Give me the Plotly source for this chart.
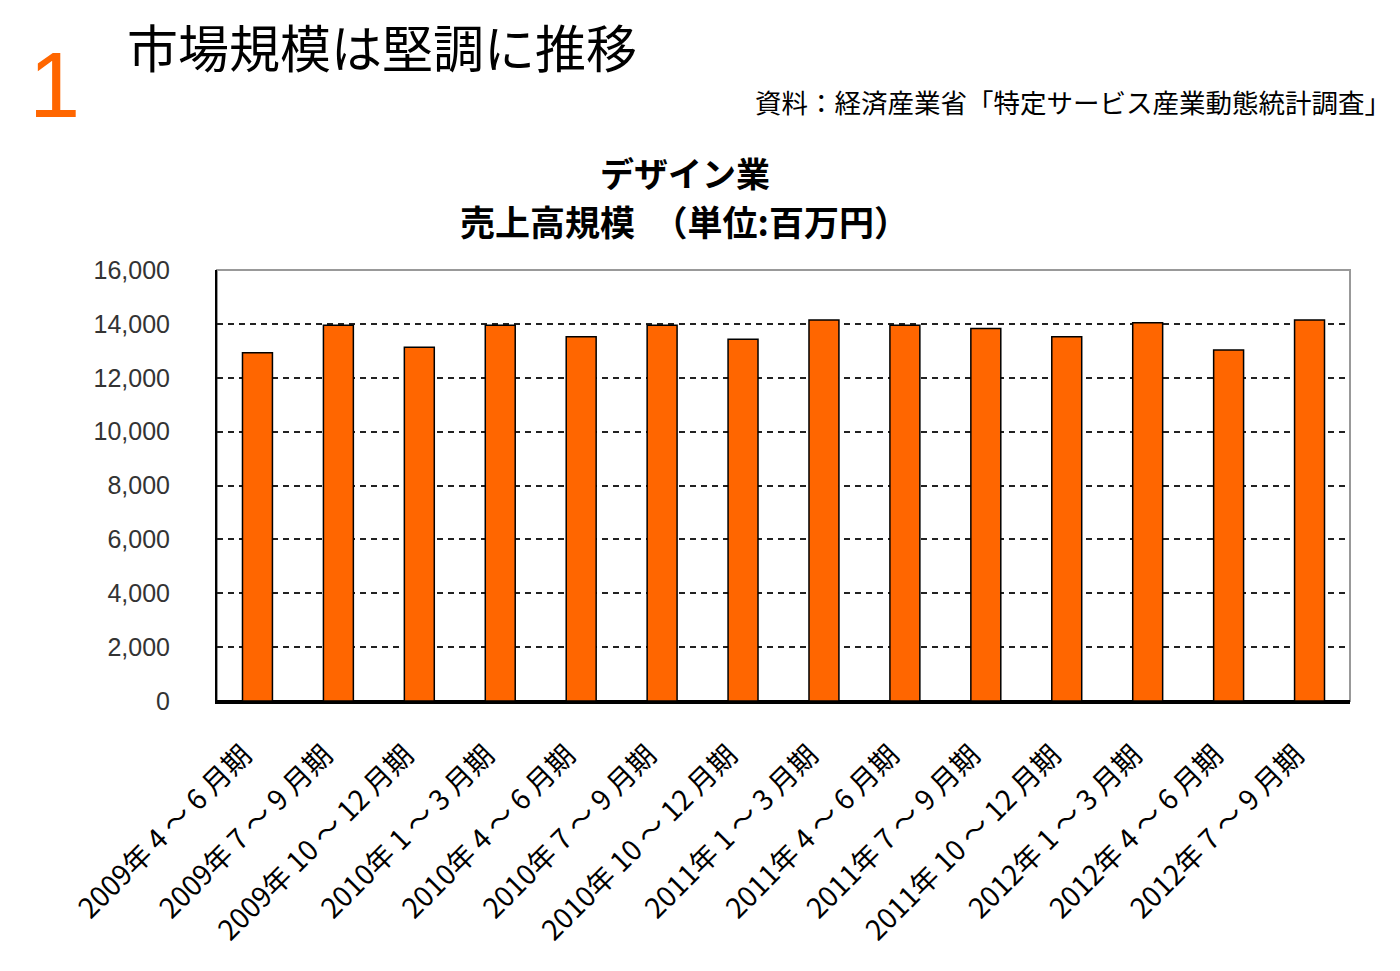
import plotly.graph_objects as go

periods = [
    "2009年 4 ～ 6 月期", "2009年 7 ～ 9 月期", "2009年 10 ～ 12 月期",
    "2010年 1 ～ 3 月期", "2010年 4 ～ 6 月期", "2010年 7 ～ 9 月期", "2010年 10 ～ 12 月期",
    "2011年 1 ～ 3 月期", "2011年 4 ～ 6 月期", "2011年 7 ～ 9 月期", "2011年 10 ～ 12 月期",
    "2012年 1 ～ 3 月期", "2012年 4 ～ 6 月期", "2012年 7 ～ 9 月期",
]
sales = [12930, 13950, 13130, 13950, 13520, 13950, 13430,
         14140, 13950, 13830, 13520, 14040, 13030, 14140]

font_jp = "Noto Sans CJK JP"

fig = go.Figure()
fig.add_trace(go.Bar(
    x=periods, y=sales,
    marker=dict(color="#FF6600", line=dict(color="black", width=1.5)),
    width=0.37,
))

fig.update_layout(
    width=1400, height=971,
    paper_bgcolor="white", plot_bgcolor="white",
    margin=dict(l=209, r=58, t=262, b=278),
    font=dict(family=font_jp, color="black"),
    showlegend=False,
)
fig.update_yaxes(
    range=[0, 16000], dtick=2000, tickformat=",",
    showgrid=True, gridcolor="#222222", griddash="6px,5px", gridwidth=2,
    showline=True, linecolor="black", linewidth=2,
    ticks="", ticklabelstandoff=40,
    tickfont=dict(size=25, family="Liberation Sans", color="#333333"),
    zeroline=True, zerolinecolor="black", zerolinewidth=2.5,
)
fig.update_xaxes(
    tickangle=-45, tickfont=dict(size=28, family=font_jp),
    showline=True, linecolor="black", linewidth=2.5,
    ticks="", ticklabelstandoff=24, ticklabelshift=-14,
)

# plot frame (gray on top/right)
fig.add_shape(type="rect", xref="paper", yref="paper", x0=0, y0=0, x1=1, y1=1,
              line=dict(color="#999999", width=2), layer="below")

fig.add_annotation(text="1", xref="paper", yref="paper", x=-0.143, y=1.429,
                   xanchor="center", yanchor="middle", showarrow=False,
                   font=dict(size=92, color="#FF6600", family="Liberation Sans"))
fig.add_annotation(text="市場規模は堅調に推移", xref="paper", yref="paper",
                   x=-0.081, y=1.52, xanchor="left", yanchor="middle",
                   showarrow=False, font=dict(size=51, family=font_jp))
fig.add_annotation(text="資料：経済産業省「特定サービス産業動態統計調査」", xref="paper", yref="paper",
                   x=1.038, y=1.39, xanchor="right", yanchor="middle",
                   showarrow=False, font=dict(size=26.5, family=font_jp))
fig.add_annotation(text="<b>デザイン業</b>", xref="paper", yref="paper",
                   x=0.413, y=1.226, xanchor="center", yanchor="middle",
                   showarrow=False, font=dict(size=34, family=font_jp))
fig.add_annotation(text="<b>売上高規模　（単位:百万円）</b>", xref="paper", yref="paper",
                   x=0.413, y=1.116, xanchor="center", yanchor="middle",
                   showarrow=False, font=dict(size=35, family=font_jp))

fig.write_html("out.html")
